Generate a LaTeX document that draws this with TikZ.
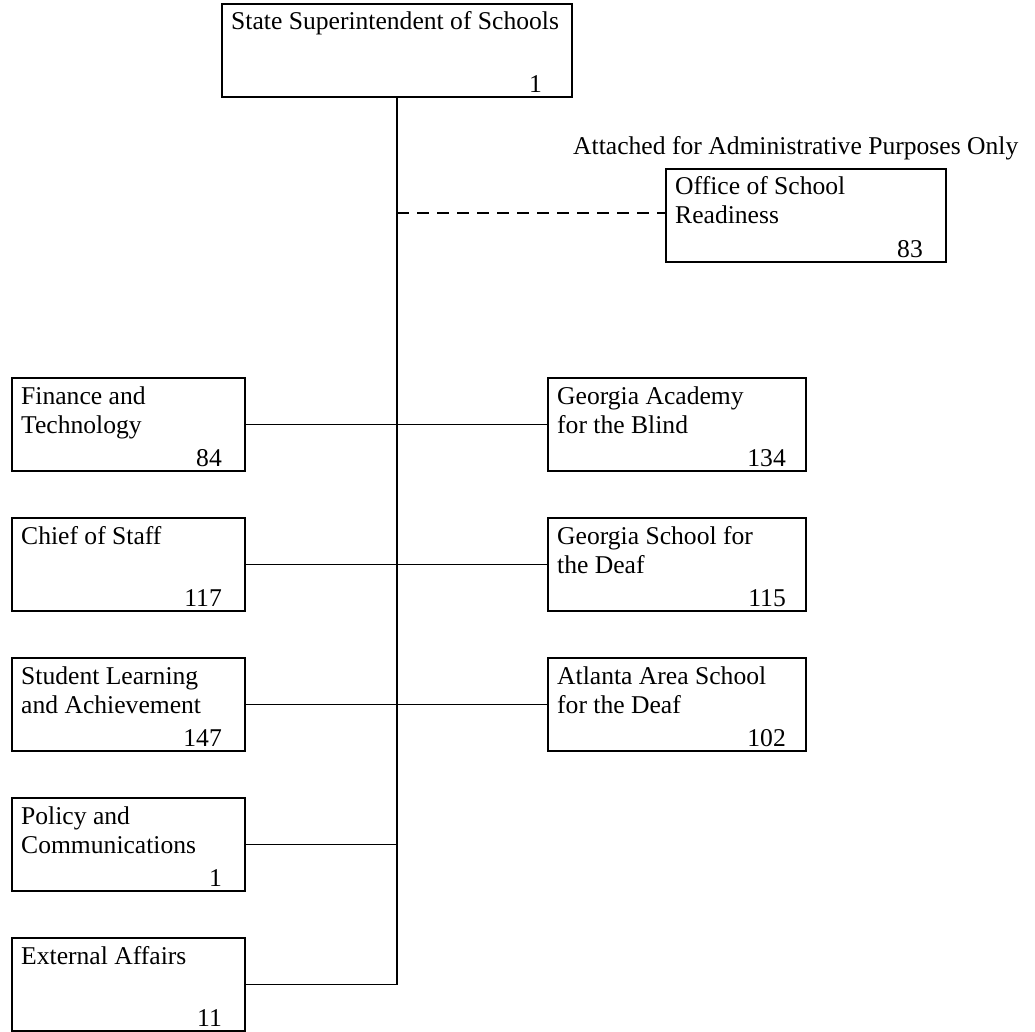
\documentclass[tikz,border=0pt]{standalone}
\usepackage{fontspec}
\setmainfont{Liberation Serif}
\usetikzlibrary{calc}
\tikzset{
  box/.style={draw, line width=1.4pt, anchor=north west, minimum height=93pt, inner sep=0pt, outer sep=0pt},
  txt/.style={anchor=base west, inner sep=0pt, font=\fontsize{25.6}{28}\selectfont},
  num/.style={anchor=base east, inner sep=0pt, font=\fontsize{25.6}{28}\selectfont},
  link/.style={line width=1.4pt},
  dlink/.style={line width=1.4pt, dash pattern=on 12pt off 8pt}
}
\newcommand\orgbox[8]{%
  \node[box, minimum width=#4pt] (#1) at (#2,#3) {};
  \node[txt] (#1-a) at ($(#1.north west)+(9,26)$) {#5};
  \node[txt] (#1-b) at ($(#1.north west)+(9,55)$) {#6};
  \node[num] (#1-n) at ($(#1.south east)+(-#7,-4.5)$) {#8};
}
\begin{document}
\begin{tikzpicture}[x=1pt,y=-1pt]
\useasboundingbox (0,0) rectangle (1035,1032);
\orgbox{sup}{222}{4}{350}{State Superintendent of Schools}{}{30}{1}
\orgbox{osr}{666}{169}{280}{Office of School}{Readiness}{23}{83}
\node[txt] (att) at (573,155) {Attached for Administrative Purposes Only};
\orgbox{fin}{12}{378}{233}{Finance and}{Technology}{23}{84}
\orgbox{cos}{12}{518}{233}{Chief of Staff}{}{23}{117}
\orgbox{sla}{12}{658}{233}{Student Learning}{and Achievement}{23}{147}
\orgbox{pol}{12}{798}{233}{Policy and}{Communications}{23}{1}
\orgbox{ext}{12}{938}{233}{External Affairs}{}{23}{11}
\orgbox{gab}{548}{378}{258}{Georgia Academy}{for the Blind}{20}{134}
\orgbox{gsd}{548}{518}{258}{Georgia School for}{the Deaf}{20}{115}
\orgbox{aas}{548}{658}{258}{Atlanta Area School}{for the Deaf}{20}{102}
\coordinate (tend) at (sup.south |- ext.east);
\draw[link] (sup.south) -- (tend);
\draw[link] (ext.east) -- (tend);
\draw[link] (pol.east) -- (pol.east -| sup.south);
\draw[link] (fin.east) -- (gab.west);
\draw[link] (cos.east) -- (gsd.west);
\draw[link] (sla.east) -- (aas.west);
\coordinate (dj) at (sup.south |- 0,213);
\draw[dlink] (dj) -- (dj -| osr.west);
\end{tikzpicture}
\end{document}
